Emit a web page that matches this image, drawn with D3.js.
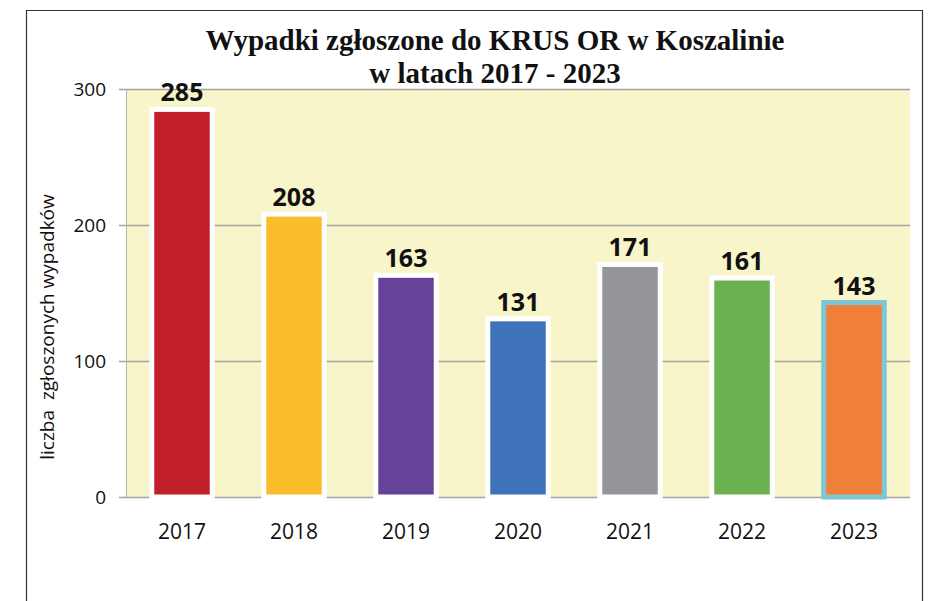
<!DOCTYPE html>
<html>
<head>
<meta charset="utf-8">
<script src="https://cdn.jsdelivr.net/npm/d3@7"></script>
<style>
  body { margin: 0; background: #fff; }
</style>
</head>
<body>
<div id="chart"></div>
<script>
// Data
const years = ['2017', '2018', '2019', '2020', '2021', '2022', '2023'];
const accidents = [285, 208, 163, 131, 171, 161, 143];
const barColors = ['#c1202a', '#fbbc2b', '#66429a', '#3f73b9', '#939598', '#6ab150', '#ef7f3b'];
const barStrokes = ['#ffffff', '#ffffff', '#ffffff', '#ffffff', '#ffffff', '#ffffff', '#7ec6d6'];
const yTicks = [0, 100, 200, 300];
const titleLines = ['Wypadki zgłoszone do KRUS OR w Koszalinie', 'w latach 2017 - 2023'];
const yTitle = 'liczba  zgłoszonych wypadków';

const W = 928, H = 601;
const plot = {left: 126, right: 910, top: 89, bottom: 497};

const svg = d3.select('#chart')
    .append('svg')
    .attr('width', W)
    .attr('height', H);

// Outer frame
svg.append('path')
    .attr('d', `M26.5,${H} V10.5 H922.5 V${H}`)
    .attr('fill', 'none')
    .attr('stroke', '#333')
    .attr('stroke-width', 1.2);

const x = d3.scaleBand()
    .domain(years)
    .range([plot.left, plot.right])
    .paddingInner(0.46)
    .paddingOuter(0.23);

const y = d3.scaleLinear()
    .domain([0, 300])
    .range([plot.bottom, plot.top]);

// Plot background
svg.append('rect')
    .attr('x', plot.left)
    .attr('y', plot.top)
    .attr('width', plot.right - plot.left)
    .attr('height', plot.bottom - plot.top)
    .attr('fill', '#f7f5c9');

// Gridlines
svg.append('g')
    .selectAll('line')
    .data(yTicks)
    .join('line')
    .attr('x1', plot.left - 7)
    .attr('x2', plot.right)
    .attr('y1', d => y(d) + 0.5)
    .attr('y2', d => y(d) + 0.5)
    .attr('stroke', '#a3a3a3')
    .attr('stroke-width', 1.5);

// Left axis line
svg.append('line')
    .attr('x1', plot.left + 0.5)
    .attr('x2', plot.left + 0.5)
    .attr('y1', plot.top)
    .attr('y2', plot.bottom)
    .attr('stroke', '#b5b5b5')
    .attr('stroke-width', 1);

// Y tick labels
svg.append('g')
    .selectAll('text')
    .data(yTicks)
    .join('text')
    .attr('x', 106)
    .attr('y', d => y(d))
    .attr('dy', '0.36em')
    .attr('text-anchor', 'end')
    .attr('font-family', 'Open Sans, sans-serif')
    .attr('font-size', 19)
    .attr('fill', '#111')
    .text(d => d);

// Y axis title
svg.append('text')
    .attr('transform', `translate(54,${327}) rotate(-90)`)
    .attr('text-anchor', 'middle')
    .attr('font-family', 'Open Sans, sans-serif')
    .attr('font-size', 19)
    .attr('fill', '#111')
    .style('white-space', 'pre')
    .text(yTitle);

// Bars
svg.append('g')
    .selectAll('rect')
    .data(accidents)
    .join('rect')
    .attr('x', (d, i) => x(years[i]))
    .attr('y', d => y(d))
    .attr('width', x.bandwidth())
    .attr('height', d => plot.bottom - y(d))
    .attr('fill', (d, i) => barColors[i])
    .attr('stroke', (d, i) => barStrokes[i])
    .attr('stroke-width', 5);

// Value labels
svg.append('g')
    .selectAll('text')
    .data(accidents)
    .join('text')
    .attr('x', (d, i) => x(years[i]) + x.bandwidth() / 2)
    .attr('y', d => y(d) - 8)
    .attr('text-anchor', 'middle')
    .attr('font-family', 'Open Sans, sans-serif')
    .attr('font-weight', 'bold')
    .attr('font-size', 25)
    .attr('fill', '#111')
    .text(d => d);

// Category labels
svg.append('g')
    .selectAll('text')
    .data(years)
    .join('text')
    .attr('x', d => x(d) + x.bandwidth() / 2)
    .attr('y', 539)
    .attr('text-anchor', 'middle')
    .attr('font-family', 'Open Sans, sans-serif')
    .attr('font-size', 21)
    .attr('fill', '#111')
    .text(d => d);

// Title
svg.append('g')
    .selectAll('text')
    .data(titleLines)
    .join('text')
    .attr('x', 495)
    .attr('y', (d, i) => 50 + i * 33)
    .attr('text-anchor', 'middle')
    .attr('font-family', 'Liberation Serif, Times New Roman, serif')
    .attr('font-weight', 'bold')
    .attr('font-size', 29)
    .attr('fill', '#111')
    .text(d => d);
</script>
</body>
</html>
